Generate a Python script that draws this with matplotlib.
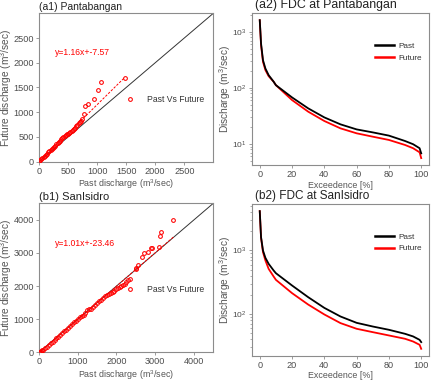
import matplotlib
matplotlib.use("Agg")
import matplotlib.pyplot as plt
from matplotlib.lines import Line2D
import numpy as np

plt.rcParams['font.family'] = ['Liberation Sans', 'DejaVu Sans']
plt.rcParams['mathtext.fontset'] = 'custom'
plt.rcParams['mathtext.rm'] = 'Liberation Sans'
plt.rcParams['mathtext.it'] = 'Liberation Sans'

# ---------------- data ----------------
# (a1) Pantabangan: past vs future discharge
past_a = [0, 20, 40, 60, 80, 100, 120, 140, 160, 180, 200, 220, 240, 260, 280, 300,
          320, 340, 360, 380, 400, 420, 440, 460, 480, 500, 520, 540, 560, 580, 600,
          620, 640, 660, 680, 700, 720, 740, 770, 799, 845, 948, 1023, 1074, 1477]
future_a = [5, 25, 47, 70, 92, 118, 140, 163, 186, 208, 230, 253, 277, 302, 326, 350,
            375, 400, 426, 455, 485, 507, 525, 538, 550, 562, 578, 597, 620, 643, 663,
            690, 715, 745, 790, 810, 830, 860, 963, 1132, 1159, 1268, 1443, 1620, 1701]
fit_a = (1.16, -7.57)

# (b1) SanIsidro
past_b = [0, 25, 50, 75, 100, 150, 200, 250, 300, 350, 400, 450, 500, 550, 600, 650,
          700, 750, 800, 850, 900, 950, 1000, 1050, 1100, 1150, 1200, 1250, 1300, 1350,
          1400, 1450, 1500, 1550, 1600, 1650, 1700, 1750, 1800, 1860, 1904, 1948, 1991,
          2035, 2079, 2122, 2166, 2210, 2253, 2297, 2341, 2498, 2507, 2559, 2664, 2699,
          2803, 2882, 2926, 3100, 3127, 3153, 3470]
future_b = [0, 15, 35, 60, 80, 125, 172, 222, 272, 322, 372, 424, 474, 528, 580, 632,
            686, 738, 800, 850, 915, 960, 1020, 1060, 1090, 1140, 1200, 1280, 1300, 1320,
            1370, 1420, 1500, 1540, 1590, 1640, 1700, 1720, 1760, 1783, 1814, 1854, 1914,
            1934, 1985, 2005, 2035, 2066, 2116, 2186, 2217, 2519, 2559, 2640, 2871, 2992,
            3043, 3144, 3164, 3174, 3526, 3627, 4010]
fit_b = (1.01, -23.46)

# FDCs
exceed = [0, 0.8, 2, 3.5, 5.5, 8.6, 10, 20, 30, 40, 50, 60, 70, 80, 90, 95, 99, 100]
fdc_a_past = [1614, 620, 313, 222, 169, 129, 112, 67.7, 43.2, 29.8, 22.4, 18.2, 16.1,
              14.1, 11.3, 9.9, 8.4, 6.8]
fdc_a_future = [1614, 579, 292, 208, 162, 129, 112, 60.7, 37.7, 25.7, 19.0, 15.5, 13.5,
                11.8, 9.6, 8.4, 7.1, 5.6]
fdc_b_past = [4180, 1625, 1000, 766, 616, 483, 438, 280, 183, 124, 90.7, 72, 63, 55.9,
              48.3, 43.9, 38.8, 35.7]
fdc_b_future = [4180, 1585, 942, 695, 513, 388, 344, 212, 140, 97.6, 71.3, 58, 51.3,
                45.5, 40.3, 36.5, 32.4, 28]

titles = ["(a1) Pantabangan", "(a2) FDC at Pantabangan",
          "(b1) SanIsidro", "(b2) FDC at SanIsidro"]

# ---------------- style ----------------
TICK_C = '#4d4d4d'
LAB_C = '#555555'
SPINE_C = '#8c8c8c'
FS_TICK = 6.6
FS_XLAB = 6.4
FS_YLAB = 7.3
FS_NOTE = 6.2
FS_LEG = 5.9

fig = plt.figure(figsize=(4.32, 3.80), dpi=100)

def style(ax):
    for s in ax.spines.values():
        s.set_color(SPINE_C)
        s.set_linewidth(0.8)
    ax.tick_params(axis='both', which='major', direction='out', length=2.5, width=0.6,
                   color=SPINE_C, labelcolor=TICK_C, labelsize=FS_TICK, pad=1.2)
    ax.tick_params(axis='both', which='minor', direction='out', length=1.5, width=0.5,
                   color=SPINE_C)


def add_title(ax, title, xoff, fs):
    ax.text(xoff, 1.012, title, transform=ax.transAxes, ha='left', va='bottom',
            fontsize=fs, color='#222222')


def scatter_panel(rect, past, fut, fit, lim, ticks, title, txtpos, tfs):
    ax = fig.add_axes(rect)
    style(ax)
    ax.plot([0, lim], [0, lim], color='#333333', lw=0.7, zorder=2)
    ax.plot(past, fut, linestyle='none', marker='o', markersize=2.7, mfc='none',
            mec='red', mew=0.75, zorder=3)
    xs = np.array([min(past), max(past)])
    ax.plot(xs, fit[0] * xs + fit[1], color='red', lw=0.7, linestyle=(0, (2.5, 1.5)),
            zorder=3)
    ax.text(txtpos[0], txtpos[1], f"y={fit[0]:.2f}x+{fit[1]:.2f}", color='red',
            fontsize=FS_NOTE, ha='left', va='center')
    ax.set_xlim(0, lim)
    ax.set_ylim(0, lim)
    ax.set_xticks(ticks)
    ax.set_yticks(ticks)
    ax.set_xlabel("Past discharge (m$^3$/sec)", fontsize=FS_XLAB, color=LAB_C, labelpad=1)
    ax.set_ylabel("Future discharge (m$^3$/sec)", fontsize=FS_YLAB, color=LAB_C)
    ax.yaxis.set_label_coords(-0.142, 0.5)
    add_title(ax, title, 0.0, tfs)
    h = Line2D([], [], linestyle='none', marker='o', markersize=2.7, mfc='none',
               mec='red', mew=0.75)
    ax.legend([h], ["Past Vs Future"], loc='center left', bbox_to_anchor=(0.497, 0.42),
              frameon=False, fontsize=FS_NOTE, handlelength=1.0, handletextpad=1.45,
              borderpad=0, borderaxespad=0, labelcolor='#333333')
    return ax


def fdc_panel(rect, past, fut, title, tfs):
    ax = fig.add_axes(rect)
    style(ax)
    ax.plot(exceed, past, color='black', lw=1.3, label='Past', zorder=3)
    ax.plot(exceed, fut, color='red', lw=1.3, label='Future', zorder=2)
    ax.set_yscale('log')
    allv = np.log10(np.array(past + fut))
    lo, hi = allv.min(), allv.max()
    pad = 0.05 * (hi - lo)
    ax.set_ylim(10 ** (lo - pad), 10 ** (hi + pad))
    ax.set_xlim(-5, 105)
    ax.set_xticks([0, 20, 40, 60, 80, 100])
    ax.tick_params(axis='y', which='major', labelsize=6.0, pad=1.0)
    ax.set_xlabel("Exceedence [%]", fontsize=FS_XLAB, color=LAB_C, labelpad=1)
    ax.set_ylabel("Discharge (m$^3$/sec)", fontsize=FS_YLAB, color=LAB_C)
    ax.yaxis.set_label_coords(-0.108, 0.5)
    add_title(ax, title, 0.02, tfs)
    leg = ax.legend(loc='center left', bbox_to_anchor=(0.694, 0.745), frameon=False,
                    fontsize=FS_LEG, handlelength=2.3, handletextpad=0.6,
                    labelspacing=0.45, borderpad=0, borderaxespad=0,
                    labelcolor='#333333')
    for l in leg.get_lines():
        l.set_linewidth(1.8)
    return ax


scatter_panel([0.0903, 0.5745, 0.4035, 0.3905], past_a, future_a, fit_a, 3000,
              [0, 500, 1000, 1500, 2000, 2500], titles[0], (276, 2209), 7.5)
fdc_panel([0.5826, 0.5658, 0.4111, 0.3992], fdc_a_past, fdc_a_future, titles[1], 8.9)
scatter_panel([0.0903, 0.0729, 0.4035, 0.3921], past_b, future_b, fit_b, 4500,
              [0, 1000, 2000, 3000, 4000], titles[2], (408, 3293), 8.0)
fdc_panel([0.5826, 0.0640, 0.4111, 0.3984], fdc_b_past, fdc_b_future, titles[3], 8.5)

fig.savefig("out.png", dpi=100)
